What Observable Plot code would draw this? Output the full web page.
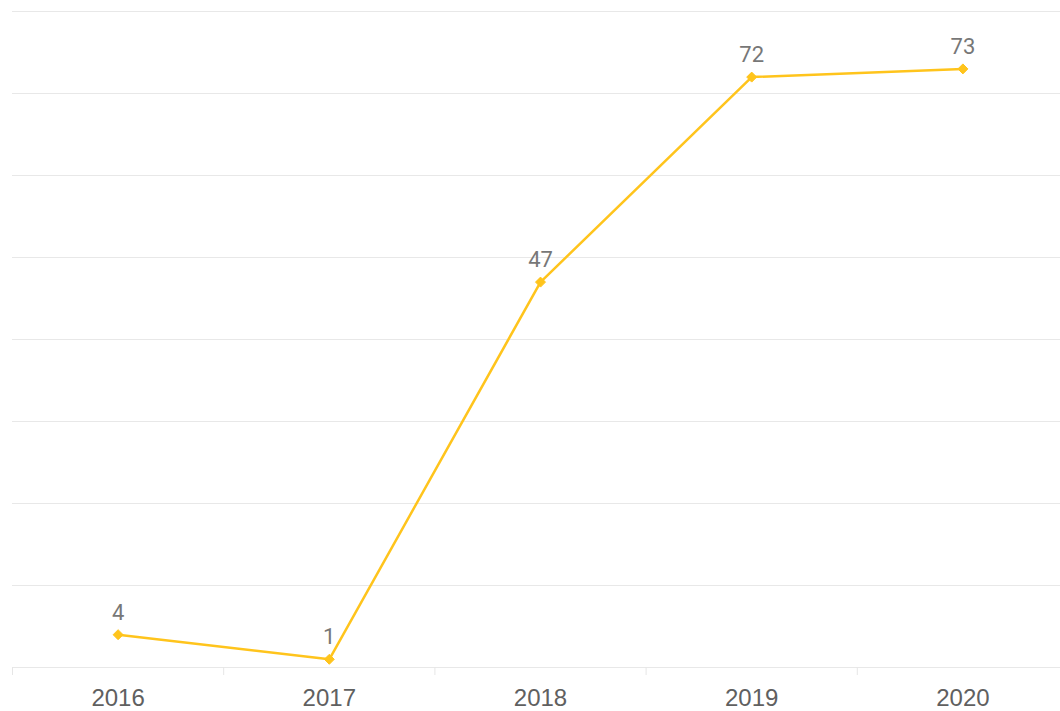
<!DOCTYPE html>
<html>
<head>
<meta charset="utf-8">
<script src="https://cdn.jsdelivr.net/npm/d3@7"></script>
<script src="https://cdn.jsdelivr.net/npm/@observablehq/plot@0.6"></script>
<style>
  html, body { margin: 0; padding: 0; background: #fff; }
  #chart svg { display: block; }
</style>
</head>
<body>
<div id="chart"></div>
<script>
const years = [2016, 2017, 2018, 2019, 2020];
const values = [4, 1, 47, 72, 73];
const yTicks = [0, 10, 20, 30, 40, 50, 60, 70, 80];

const data = years.map((year, i) => ({year, value: values[i]}));
const boundaries = years.map(y => y - 0.5);

const lineColor = "#FFC41C";

const chart = Plot.plot({
  width: 1060,
  height: 711,
  marginLeft: 12,
  marginRight: 0,
  marginTop: 11,
  marginBottom: 44,
  style: {fontFamily: "'Liberation Sans', Arial, sans-serif", background: "#fff"},
  x: {type: "linear", domain: [2015.5, 2020.5], range: [12, 1068], label: null},
  y: {domain: [0, 80], axis: null, label: null},
  marks: [
    Plot.ruleY(yTicks, {stroke: "#e8e8e8", strokeWidth: 1}),
    Plot.axisX(boundaries, {tickSize: 8, tickFormat: () => "", stroke: "#e6e6e6", strokeOpacity: 1, label: null}),
    Plot.axisX(years, {tickSize: 0, tickPadding: 21, tickFormat: d => String(d), fontSize: 24, fill: "#606060", label: null}),
    Plot.line(data, {x: "year", y: "value", stroke: lineColor, strokeWidth: 2.5}),
    Plot.dot(data, {x: "year", y: "value", symbol: "diamond2", r: 4.5, fill: lineColor, stroke: lineColor, strokeWidth: 1}),
    Plot.text(data, {x: "year", y: "value", text: d => String(d.value), lineAnchor: "bottom", dy: -15, fontSize: 22, fill: "#777", fontFamily: "Roboto, 'Liberation Sans', sans-serif"})
  ]
});
document.getElementById("chart").appendChild(chart);
</script>
</body>
</html>
